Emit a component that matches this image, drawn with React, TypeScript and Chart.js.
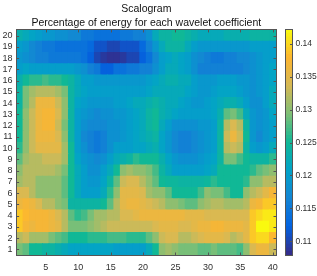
import React, { useEffect, useRef } from "react";
import { Chart, registerables } from "chart.js";

Chart.register(...registerables);

const titleLines = ["Scalogram", "Percentage of energy for each wavelet coefficient"];
const columns = Array.from({ length: 40 }, (_, i) => String(i + 1));
const rowTicks = Array.from({ length: 20 }, (_, i) => i + 1);
const colorTicks = [0.11, 0.115, 0.12, 0.125, 0.13, 0.135, 0.14];
const colorMin = 0.1079;
const colorMax = 0.1421;
const levelCount = 64;

const row1 = [.129,.128,.125,.125,.124,.124,.123,.122,.121,.121,.121,.121,.121,.121,.121,.120,.120,.120,.120,.120,.122,.125,.130,.131,.130,.129,.129,.129,.128,.128,.129,.128,.128,.128,.127,.130,.134,.136,.136,.133];
const row2 = [.132,.133,.131,.131,.131,.129,.128,.127,.125,.125,.125,.126,.126,.126,.127,.127,.127,.126,.126,.126,.128,.130,.133,.134,.134,.132,.132,.133,.134,.135,.135,.135,.134,.132,.133,.135,.139,.140,.140,.138];
const row3 = [.139,.137,.136,.137,.137,.136,.135,.132,.129,.129,.129,.130,.131,.132,.133,.133,.133,.133,.133,.133,.133,.134,.135,.135,.135,.134,.134,.135,.136,.136,.137,.137,.136,.136,.136,.135,.139,.142,.142,.141];
const row4 = [.139,.138,.137,.137,.137,.136,.134,.132,.128,.126,.127,.129,.131,.131,.132,.132,.134,.134,.135,.136,.136,.136,.136,.136,.136,.136,.135,.135,.135,.134,.134,.134,.134,.134,.134,.134,.139,.140,.141,.141];
const row5 = [.136,.137,.136,.134,.132,.132,.130,.129,.124,.124,.124,.124,.124,.125,.128,.132,.135,.136,.136,.135,.134,.133,.132,.130,.130,.129,.128,.128,.130,.131,.132,.132,.131,.131,.131,.132,.136,.137,.139,.139];
const row6 = [.134,.134,.132,.130,.130,.130,.130,.128,.125,.122,.120,.120,.120,.122,.126,.130,.135,.135,.135,.134,.131,.130,.130,.128,.125,.125,.125,.125,.127,.130,.129,.129,.127,.125,.125,.130,.132,.133,.135,.137];
const row7 = [.131,.132,.132,.130,.130,.130,.130,.128,.125,.122,.120,.119,.119,.121,.124,.128,.133,.134,.134,.132,.130,.128,.125,.1245,.1245,.124,.124,.124,.124,.1245,.126,.125,.125,.125,.125,.126,.130,.130,.132,.132];
const row8 = [.130,.132,.132,.132,.132,.132,.131,.129,.125,.122,.120,.118,.118,.120,.122,.125,.130,.131,.130,.130,.129,.127,.124,.122,.120,.120,.120,.120,.120,.121,.122,.125,.125,.125,.125,.125,.126,.128,.129,.130];
const row9 = [.128,.131,.132,.132,.133,.133,.133,.131,.125,.121,.119,.118,.117,.118,.120,.122,.123,.124,.126,.125,.125,.125,.123,.121,.119,.118,.118,.118,.119,.120,.121,.124,.129,.129,.127,.125,.124,.124,.124,.126];
const row10 = [.126,.130,.133,.135,.135,.135,.135,.131,.125,.120,.118,.116,.115,.116,.118,.120,.120,.120,.121,.121,.122,.123,.121,.119,.117,.116,.116,.117,.118,.119,.120,.124,.132,.133,.132,.124,.120,.119,.120,.122];
const row11 = [.125,.130,.133,.136,.136,.136,.134,.130,.124,.120,.117,.116,.115,.116,.118,.118,.119,.120,.121,.122,.123,.124,.121,.119,.117,.116,.116,.117,.118,.119,.120,.124,.133,.136,.133,.125,.119,.117,.119,.120];
const row12 = [.125,.130,.133,.136,.137,.137,.133,.129,.124,.120,.118,.117,.117,.117,.118,.118,.119,.120,.121,.122,.124,.125,.122,.120,.118,.118,.118,.118,.119,.119,.120,.124,.132,.134,.132,.124,.119,.118,.119,.120];
const row13 = [.125,.130,.133,.136,.137,.137,.134,.130,.124,.120,.119,.118,.117,.118,.118,.119,.119,.120,.121,.122,.124,.125,.123,.122,.121,.120,.120,.120,.120,.120,.121,.123,.128,.129,.127,.122,.119,.118,.119,.121];
const row14 = [.124,.129,.132,.136,.136,.136,.133,.130,.124,.121,.120,.119,.119,.119,.119,.120,.120,.121,.122,.122,.123,.124,.123,.122,.122,.121,.120,.119,.119,.120,.121,.122,.123,.123,.122,.120,.118,.118,.120,.122];
const row15 = [.124,.129,.131,.132,.132,.132,.131,.129,.124,.122,.121,.120,.120,.120,.120,.120,.120,.120,.120,.120,.121,.122,.122,.122,.122,.122,.121,.120,.119,.119,.120,.121,.121,.121,.120,.119,.118,.119,.120,.122];
const row16 = [.123,.125,.126,.126,.127,.126,.126,.125,.124,.122,.120,.120,.119,.119,.119,.119,.119,.119,.119,.119,.120,.121,.122,.123,.123,.122,.122,.120,.119,.119,.119,.120,.120,.120,.119,.119,.118,.119,.120,.121];
const row17 = [.120,.121,.120,.120,.120,.120,.120,.120,.120,.119,.118,.116,.115,.112,.112,.114,.114,.115,.115,.116,.116,.118,.120,.122,.122,.121,.120,.118,.116,.116,.116,.116,.116,.116,.116,.117,.118,.119,.120,.121];
const row18 = [.119,.118,.117,.116,.116,.115,.115,.115,.115,.115,.114,.112,.110,.109,.1085,.1085,.109,.110,.110,.112,.114,.117,.120,.121,.122,.121,.120,.118,.117,.116,.115,.115,.116,.116,.117,.117,.118,.119,.120,.120];
const row19 = [.120,.119,.117,.116,.115,.115,.114,.114,.114,.114,.114,.113,.111,.111,.110,.110,.111,.111,.111,.113,.116,.119,.122,.124,.124,.124,.122,.120,.119,.119,.119,.119,.119,.119,.119,.119,.120,.120,.120,.120];
const row20 = [.123,.122,.121,.120,.119,.119,.118,.118,.117,.117,.115,.115,.114,.114,.114,.114,.115,.115,.116,.116,.118,.122,.124,.124,.125,.125,.124,.123,.122,.122,.122,.122,.123,.123,.123,.123,.124,.124,.124,.124];
const rows = [row1, row2, row3, row4, row5, row6, row7, row8, row9, row10, row11, row12, row13, row14, row15, row16, row17, row18, row19, row20];

const colorStops = ["#352a87", "#0363e1", "#1485d4", "#02a3c8", "#10b896", "#7fbf76", "#d6b955", "#fcb530", "#f9fb0e"];

function hexPart(hex: string, start: number) {
  return parseInt(hex.slice(start, start + 2), 16);
}

function colorFor(value: number) {
  const t = Math.min(1, Math.max(0, (value - colorMin) / (colorMax - colorMin)));
  const position = t * (colorStops.length - 1);
  const index = Math.min(colorStops.length - 2, Math.floor(position));
  const f = position - index;
  const a = colorStops[index];
  const b = colorStops[index + 1];
  const mix = (s: number) => Math.round(hexPart(a, s) + (hexPart(b, s) - hexPart(a, s)) * f);
  return `rgb(${mix(1)},${mix(3)},${mix(5)})`;
}

const axisColor = "#555555";
const fontFamily = "'Liberation Sans', Arial, sans-serif";

const heatFrame = {
  id: "heatFrame",
  afterDatasetsDraw(chart: any) {
    const { ctx, chartArea: a, scales } = chart;
    ctx.save();
    ctx.strokeStyle = axisColor;
    ctx.lineWidth = 1;
    ctx.strokeRect(Math.round(a.left) - 0.5, Math.round(a.top) - 0.5, Math.round(a.width) + 1, Math.round(a.height) + 1);
    ctx.beginPath();
    scales.x.ticks.forEach((tick: any, i: number) => {
      if (!tick.label) return;
      const x = Math.round(scales.x.getPixelForTick(i)) + 0.5;
      ctx.moveTo(x, a.bottom);
      ctx.lineTo(x, a.bottom - 2.5);
      ctx.moveTo(x, a.top);
      ctx.lineTo(x, a.top + 2.5);
    });
    scales.y.ticks.forEach((tick: any) => {
      const y = Math.round(scales.y.getPixelForValue(tick.value)) + 0.5;
      ctx.moveTo(a.left, y);
      ctx.lineTo(a.left + 2.5, y);
      ctx.moveTo(a.right, y);
      ctx.lineTo(a.right - 2.5, y);
    });
    ctx.stroke();
    ctx.restore();
  },
};

const barFrame = {
  id: "barFrame",
  afterDatasetsDraw(chart: any) {
    const { ctx, chartArea: a, scales } = chart;
    ctx.save();
    ctx.strokeStyle = axisColor;
    ctx.lineWidth = 1;
    ctx.strokeRect(Math.round(a.left) - 0.5, Math.round(a.top) - 0.5, Math.round(a.width) + 1, Math.round(a.height) + 1);
    ctx.beginPath();
    scales.y.ticks.forEach((tick: any) => {
      const y = Math.round(scales.y.getPixelForValue(tick.value)) + 0.5;
      ctx.moveTo(a.right, y);
      ctx.lineTo(a.right - 2, y);
    });
    ctx.stroke();
    ctx.restore();
  },
};

export default function App() {
  const heatRef = useRef<HTMLCanvasElement>(null);
  const barRef = useRef<HTMLCanvasElement>(null);

  useEffect(() => {
    const heat = new Chart(heatRef.current!, {
      type: "bar",
      data: {
        labels: columns,
        datasets: rows.map((row, r) => ({
          data: row.map(() => [r + 0.5, r + 1.5]),
          backgroundColor: row.map(colorFor),
          borderWidth: 0,
          inflateAmount: 0.5,
          barPercentage: 1,
          categoryPercentage: 1,
          grouped: false,
        })),
      } as any,
      plugins: [heatFrame],
      options: {
        animation: false,
        responsive: false,
        layout: { padding: { left: 0, right: 41, top: 0, bottom: 0 } },
        plugins: {
          legend: { display: false },
          tooltip: { enabled: false },
          title: {
            display: true,
            text: titleLines,
            fullSize: false,
            color: "#111111",
            font: { family: fontFamily, size: 10.5, weight: "normal", lineHeight: 1.33 },
            padding: { top: 2, bottom: 0 },
          },
        },
        scales: {
          x: {
            grid: { display: false, drawTicks: false },
            border: { display: false },
            afterFit(scale: any) { scale.height = 21; },
            ticks: {
              autoSkip: false,
              maxRotation: 0,
              padding: 7,
              color: "#303030",
              font: { family: fontFamily, size: 9 },
              callback(_: any, i: number) {
                return (i + 1) % 5 === 0 ? columns[i] : "";
              },
            },
          },
          y: {
            type: "linear",
            min: 0.5,
            max: 20.5,
            grid: { display: false, drawTicks: false },
            border: { display: false },
            afterBuildTicks(scale: any) {
              scale.ticks = rowTicks.map((value) => ({ value }));
            },
            afterFit(scale: any) { scale.width = 16.6; },
            ticks: {
              autoSkip: false,
              padding: 4,
              color: "#303030",
              font: { family: fontFamily, size: 9 },
              callback(value: any) { return String(value); },
            },
          },
        },
      } as any,
    });

    const levels = Array.from({ length: levelCount }, (_, i) => colorMin + ((colorMax - colorMin) * i) / levelCount);
    const step = (colorMax - colorMin) / levelCount;
    const bar = new Chart(barRef.current!, {
      type: "bar",
      data: {
        labels: ["colorbar"],
        datasets: levels.map((level) => ({
          data: [[level, level + step]],
          backgroundColor: colorFor(level + step / 2),
          borderWidth: 0,
          inflateAmount: 0.5,
          barPercentage: 1,
          categoryPercentage: 1,
          grouped: false,
        })),
      } as any,
      plugins: [barFrame],
      options: {
        animation: false,
        responsive: false,
        layout: { padding: { left: 286, right: 0, top: 30, bottom: 21 } },
        plugins: { legend: { display: false }, tooltip: { enabled: false } },
        scales: {
          x: { display: false },
          y: {
            position: "right",
            min: colorMin,
            max: colorMax,
            grid: { display: false, drawTicks: false },
            border: { display: false },
            afterBuildTicks(scale: any) {
              scale.ticks = colorTicks.map((value) => ({ value }));
            },
            afterFit(scale: any) { scale.width = 25; },
            ticks: {
              padding: 3.5,
              color: "#303030",
              font: { family: fontFamily, size: 8.5 },
              callback(value: any) { return String(Number(value)); },
            },
          },
        },
      } as any,
    });

    return () => {
      heat.destroy();
      bar.destroy();
    };
  }, []);

  const style: React.CSSProperties = { position: "fixed", left: 0, top: 0, display: "block", filter: "blur(0.4px)" };
  return (
    <>
      <canvas ref={heatRef} width={317} height={276} style={style} />
      <canvas ref={barRef} width={317} height={276} style={style} />
    </>
  );
}
